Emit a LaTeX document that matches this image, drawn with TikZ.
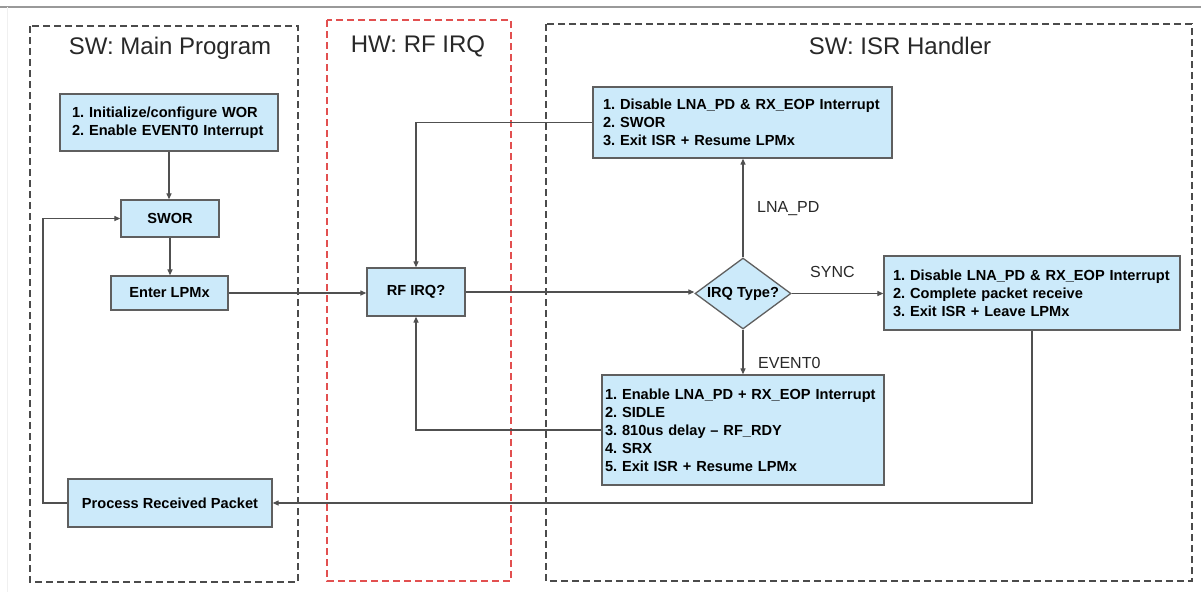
\documentclass[tikz,border=0pt]{standalone}
\usepackage{fontspec}
\setmainfont{Liberation Sans}
\usetikzlibrary{arrows.meta,shapes.geometric}
\definecolor{boxfill}{RGB}{204,234,250}
\definecolor{boxline}{RGB}{95,95,95}
\definecolor{linegray}{RGB}{80,80,80}
\definecolor{panelgray}{RGB}{75,75,75}
\definecolor{panelred}{RGB}{226,80,80}
\definecolor{txtgray}{RGB}{40,40,40}
\frenchspacing
\hyphenpenalty=10000
\exhyphenpenalty=10000
\begin{document}
\begin{tikzpicture}[x=1pt,y=-1pt,
  box/.style={draw=boxline, fill=boxfill, line width=1.3pt, text=black,
    font=\fontsize{14.6}{18}\selectfont\bfseries, inner ysep=0pt},
  lbox/.style={box, align=left},
  panel/.style={draw=panelgray, dash pattern=on 7pt off 4pt, line width=1.2pt},
  conn/.style={draw=linegray, line width=1.2pt},
  arr/.style={conn, -{Triangle[length=6pt,width=5pt]}},
  lbl/.style={font=\fontsize{16}{18}\selectfont, text=txtgray, anchor=base west, inner sep=0pt},
  ttl/.style={font=\fontsize{24}{28}\selectfont, text=txtgray, anchor=base, inner sep=0pt}
]
\useasboundingbox (0,0) rectangle (1201,592);
\fill[white] (0,0) rectangle (1201,592);
% frame lines
\draw[gray!80, line width=1.5pt] (0,7) -- (1201,7);
\draw[gray!12, line width=1pt] (7,7) -- (7,592);
% panels
\draw[panel] (30,26) rectangle (298,582);
\draw[panel, draw=panelred] (327,20) rectangle (511,581);
\draw[panel] (546,24) rectangle (1192,581);
\node[ttl] (t1) at (170,54.5) {SW: Main Program};
\node[ttl] (t2) at (418,52) {HW: RF IRQ};
\node[ttl] (t3) at (900,54.5) {SW: ISR Handler};
% boxes
\node[lbox, minimum width=218pt, minimum height=57pt, inner xsep=12pt, text width=194pt] (init) at (169,122.5)
  {1. Initialize/configure WOR\\2. Enable EVENT0 Interrupt};
\node[box, minimum width=98pt, minimum height=37pt] (swor) at (170,218.5) {SWOR};
\node[box, minimum width=117pt, minimum height=34pt] (lpm) at (169.5,293) {Enter LPMx};
\node[box, minimum width=204pt, minimum height=48pt] (proc) at (170,503) {Process Received Packet};
\node[box, minimum width=98pt, minimum height=48pt] (rf) at (416,292) {RF IRQ?};
\node[lbox, minimum width=299pt, minimum height=71pt, inner xsep=10pt, text width=279pt] (top) at (742.5,122.5)
  {1. Disable LNA\_PD \& RX\_EOP Interrupt\\2. SWOR\\3. Exit ISR + Resume LPMx};
\node[box, diamond, minimum width=96pt, minimum height=71pt, inner sep=0pt,
  label={[font=\fontsize{14.6}{18}\selectfont\bfseries]center:IRQ Type?}] (irq) at (743,293.5) {};
\node[lbox, minimum width=296pt, minimum height=74pt, inner xsep=9pt, text width=278pt] (sync) at (1032,293)
  {1. Disable LNA\_PD \& RX\_EOP Interrupt\\2. Complete packet receive\\3. Exit ISR + Leave LPMx};
\node[lbox, minimum width=282pt, minimum height=110pt, inner xsep=3pt, text width=276pt] (ev) at (743,430)
  {1. Enable LNA\_PD + RX\_EOP Interrupt\\2. SIDLE\\3. 810us delay -- RF\_RDY\\4. SRX\\5. Exit ISR + Resume LPMx};
% labels
\node[lbl] (l1) at (757,212) {LNA\_PD};
\node[lbl] (l2) at (810,277) {SYNC};
\node[lbl] (l3) at (758,368) {EVENT0};
% connectors
\draw[arr] (init.south) -- (init.south |- swor.north);
\draw[arr] (swor.south) -- (swor.south |- lpm.north);
\draw[arr] (lpm.east) -- (lpm.east -| rf.west);
\draw[arr] (rf.east) -- (rf.east -| irq.west);
\draw[arr] (irq.north) -- (irq.north |- top.south);
\draw[arr] (irq.east) -- (irq.east -| sync.west);
\draw[arr] (irq.south) -- (irq.south |- ev.north);
\draw[arr] (top.west) -| (rf.north);
\draw[arr] (ev.west) -| (rf.south);
\draw[arr] (sync.south) |- (proc.east);
\coordinate (lp) at (43,503);
\draw[arr] (proc.west) -- (lp) |- (swor.west);
\end{tikzpicture}
\end{document}
